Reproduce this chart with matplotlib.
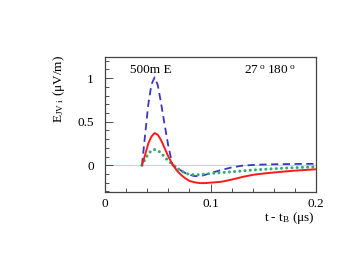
import matplotlib
matplotlib.use("Agg")
import matplotlib.pyplot as plt
from matplotlib.ticker import MultipleLocator, FuncFormatter

plt.rcParams['font.family'] = ['Liberation Serif', 'DejaVu Serif']
plt.rcParams['mathtext.fontset'] = 'custom'
plt.rcParams['mathtext.rm'] = 'Liberation Serif'
plt.rcParams['mathtext.it'] = 'Liberation Serif'

t = [0.035, 0.038, 0.041, 0.044, 0.047, 0.050, 0.053, 0.056, 0.060, 0.064,
     0.068, 0.072, 0.076, 0.080, 0.085, 0.090, 0.095, 0.100, 0.110, 0.120,
     0.130, 0.140, 0.150, 0.160, 0.170, 0.180, 0.190, 0.200]
blue = [0.0, 0.35, 0.70, 0.93, 1.01, 0.92, 0.72, 0.50, 0.22, 0.0,
        -0.03, -0.06, -0.09, -0.11, -0.125, -0.125, -0.11, -0.09, -0.055, -0.025,
        -0.005, 0.003, 0.008, 0.011, 0.013, 0.015, 0.016, 0.016]
red = [0.0, 0.12, 0.25, 0.33, 0.37, 0.35, 0.29, 0.21, 0.10, 0.01,
       -0.06, -0.11, -0.15, -0.18, -0.197, -0.205, -0.205, -0.20, -0.19, -0.165,
       -0.135, -0.11, -0.095, -0.083, -0.072, -0.062, -0.054, -0.046]
green = [0.0, 0.07, 0.13, 0.17, 0.18, 0.17, 0.14, 0.10, 0.05, 0.01,
         -0.03, -0.065, -0.09, -0.105, -0.11, -0.108, -0.10, -0.095, -0.085, -0.075,
         -0.065, -0.055, -0.047, -0.04, -0.033, -0.028, -0.023, -0.02]

fig = plt.figure(figsize=(3.56, 2.67), dpi=100)
ax = fig.add_axes([0.295, 0.281, 0.593, 0.506])

ax.axhline(0, color='#b8dede', lw=0.8, zorder=1)
ax.plot(t, blue, color='#3a36c8', lw=1.3, ls=(0, (4, 2.5)), zorder=3)
ax.plot(t, green, color='#2fae72', lw=2.2, ls=(0, (0.01, 1.7)), dash_capstyle='round', zorder=3)
ax.plot(t, red, color='#ff1a1a', lw=1.4, zorder=4)

ax.set_xlim(0, 0.2)
ax.set_ylim(-0.307, 1.245)
ax.xaxis.set_major_locator(MultipleLocator(0.1))
ax.xaxis.set_minor_locator(MultipleLocator(0.02))
ax.yaxis.set_major_locator(MultipleLocator(0.5))
ax.yaxis.set_minor_locator(MultipleLocator(0.1))
fmt = FuncFormatter(lambda v, p: '0' if abs(v) < 1e-9 else f'{v:g}')
ax.xaxis.set_major_formatter(fmt)
ax.yaxis.set_major_formatter(fmt)
ax.tick_params(which='both', direction='in', top=False, right=False, labelsize=9.5,
               colors='#333333', labelcolor='black')
ax.tick_params(which='major', length=6, width=0.6)
ax.tick_params(which='minor', length=3, width=0.6)
ax.tick_params(axis='x', pad=4)
ax.tick_params(axis='y', pad=8)
for s in ax.spines.values():
    s.set_color('#444444')
    s.set_linewidth(0.9)

ax.text(0.12, 0.90, '500m E', transform=ax.transAxes, fontsize=9.5, va='center', ha='left')
ax.text(0.78, 0.90, r'27$\,^{\rm o}$ 180$\,^{\rm o}$', transform=ax.transAxes,
        fontsize=9.5, va='center', ha='center')

fig.text(0.166, 0.668, r'E$_{\rm JV\ i}$ (μV/m)', rotation=90, fontsize=9.5,
         ha='center', va='center')
fig.text(0.885, 0.183, r't - t$_{\rm B}$ (μs)', fontsize=9.5, ha='right', va='center')

fig.savefig('out.png', dpi=100)
